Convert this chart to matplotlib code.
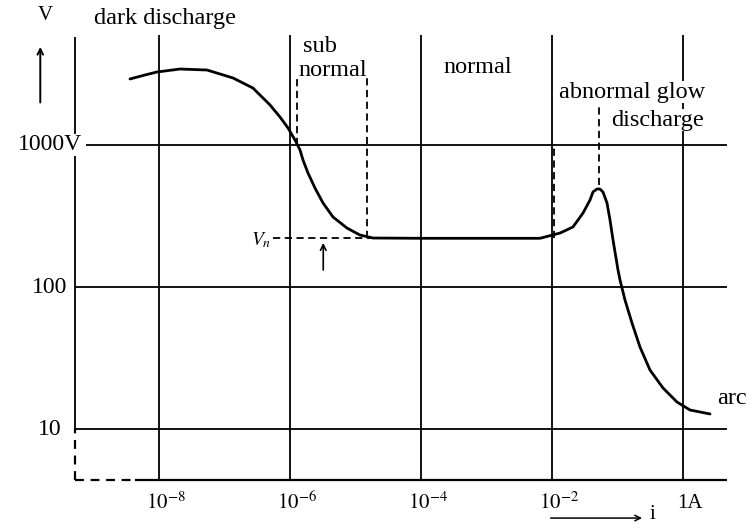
import matplotlib
matplotlib.use('Agg')
import matplotlib.pyplot as plt
import numpy as np

plt.rcParams['font.family'] = ['Liberation Serif', 'DejaVu Serif']
plt.rcParams['mathtext.fontset'] = 'stix'

# V-I characteristic of a gas discharge (log10 values)
log_i = [-8.450, -8.221, -8.038, -7.687, -7.275, -6.878, -6.573, -6.313, -6.160,
         -6.038, -5.931, -5.855, -5.809, -5.733, -5.626, -5.504, -5.351, -5.137,
         -4.939, -4.740, -4.000, -3.000, -2.191, -1.885, -1.687, -1.534, -1.427,
         -1.382, -1.321, -1.275, -1.229, -1.168, -1.122, -1.076, -1.000, -0.969,
         -0.893, -0.786, -0.664, -0.511, -0.313, -0.099, 0.099, 0.405]
log_v = [3.465, 3.493, 3.514, 3.535, 3.528, 3.472, 3.401, 3.282, 3.197,
         3.120, 3.035, 2.965, 2.894, 2.803, 2.697, 2.592, 2.493, 2.415,
         2.366, 2.345, 2.343, 2.343, 2.343, 2.380, 2.423, 2.521, 2.613,
         2.669, 2.690, 2.690, 2.669, 2.592, 2.472, 2.331, 2.120, 2.049,
         1.908, 1.746, 1.577, 1.415, 1.289, 1.190, 1.134, 1.106]

current = 10.0 ** np.array(log_i)
voltage = 10.0 ** np.array(log_v)

i_ticks = [1e-8, 1e-6, 1e-4, 1e-2, 1.0]
i_tick_labels = ['$10^{-8}$', '$10^{-6}$', '$10^{-4}$', '$10^{-2}$', '1A']
v_levels = [1000, 100, 10]
v_labels = ['1000V', '100', '10']

# region boundaries (dashed) and the plateau voltage
v_n = 10 ** 2.345
sub_left, sub_right = 10 ** -5.90, 10 ** -4.83
norm_right, peak_i = 10 ** -1.97, 10 ** -1.29

fig = plt.figure(figsize=(7.49, 5.30), dpi=100)
ax = fig.add_axes([0, 0, 1, 1])
ax.set_xscale('log')
ax.set_yscale('log')
ax.set_xlim(10 ** -10.435, 10 ** 1.0)
ax.set_ylim(10 ** 0.289, 10 ** 4.021)
ax.axis('off')

x_left, x_right = 10 ** -9.29, 10 ** 0.67
v_bottom, v_top = 10 ** 0.641, 10 ** 3.775
lw = 1.3

# horizontal grid lines
ax.hlines(1000, 10 ** -9.12, x_right, color='k', lw=lw)
ax.hlines([100, 10], x_left, x_right, color='k', lw=lw)
# vertical grid lines
ax.vlines(i_ticks, v_bottom, v_top, color='k', lw=lw)
# left axis: solid down to 10, dashed below
ax.vlines(x_left, 10, 10 ** 3.761, color='k', lw=lw)
ax.vlines(x_left, v_bottom, 10, color='k', lw=1.6, linestyles=(0, (4, 3)))
# bottom axis
ax.hlines(v_bottom, x_left, 10 ** -8.37, color='k', lw=1.6, linestyles=(0, (4, 3)))
ax.hlines(v_bottom, 10 ** -8.37, x_right, color='k', lw=1.6)

# dashed region markers
dash = (0, (4, 2.5))
dlw = 1.3
ax.vlines(sub_left, 1000, 10 ** 3.472, color='k', lw=dlw, linestyles=dash)
ax.vlines(sub_right, v_n, 10 ** 3.472, color='k', lw=dlw, linestyles=dash)
ax.vlines(norm_right, v_n, 1000, color='k', lw=dlw, linestyles=dash)
ax.vlines(peak_i, 10 ** 2.718, 10 ** 3.268, color='k', lw=dlw, linestyles=dash)
ax.hlines(v_n, 10 ** -6.27, 10 ** -4.70, color='k', lw=dlw, linestyles=dash)

# the characteristic
ax.plot(current, voltage, color='k', lw=2.0, solid_capstyle='round',
        solid_joinstyle='round', zorder=3)

# Vn marker arrow
ax.annotate('', xy=(10 ** -5.50, 10 ** 2.33), xytext=(10 ** -5.50, 10 ** 2.10),
            arrowprops=dict(arrowstyle='->', color='k', lw=1.2))
ax.text(10 ** -6.44, 10 ** 2.33, '$V_n$', fontsize=14, ha='center', va='center',
        bbox=dict(fc='white', ec='none', pad=0.5), zorder=4)

# axis arrows
ax.annotate('', xy=(10 ** -9.82, 10 ** 3.71), xytext=(10 ** -9.82, 10 ** 3.28),
            arrowprops=dict(arrowstyle='->', color='k', lw=1.4))
ax.text(10 ** -9.75, 10 ** 3.915, 'V', fontsize=15, ha='center', va='center')
ax.annotate('', xy=(10 ** -0.59, 10 ** 0.373), xytext=(10 ** -2.07, 10 ** 0.373),
            arrowprops=dict(arrowstyle='->', color='k', lw=1.1))
ax.text(10 ** -0.47, 10 ** 0.40, 'i', fontsize=15, ha='center', va='center')

# tick labels
for x, lab in zip(i_ticks, i_tick_labels):
    ax.text(x * 10 ** 0.1, 10 ** 0.479, lab, fontsize=15, ha='center', va='center')
for v, lab, xl in zip(v_levels, v_labels, [-9.18, -9.41, -9.49]):
    ax.text(10 ** xl, v, lab, fontsize=17, ha='right', va='center',
            bbox=dict(fc='white', ec='none', pad=0.3), zorder=4)

# region names
txt = dict(fontsize=17.5, ha='center', va='center', zorder=4)
ax.text(10 ** -7.92, 10 ** 3.894, 'dark discharge', **txt)
ax.text(10 ** -5.55, 10 ** 3.697, 'sub', **txt)
ax.text(10 ** -5.35, 10 ** 3.528, 'normal', **txt)
ax.text(10 ** -3.14, 10 ** 3.549, 'normal', **txt)
ax.text(10 ** -0.79, 10 ** 3.373, 'abnormal glow',
        bbox=dict(fc='white', ec='none', pad=0.3), **txt)
ax.text(10 ** -0.40, 10 ** 3.176, 'discharge',
        bbox=dict(fc='white', ec='none', pad=0.3), **txt)
ax.text(10 ** 0.74, 10 ** 1.218, 'arc', **txt)

fig.savefig('out.png', dpi=100)
plt.close(fig)
